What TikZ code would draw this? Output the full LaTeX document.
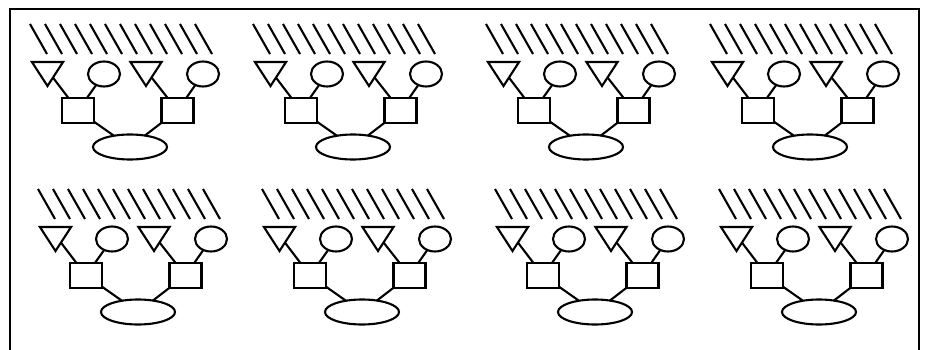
\documentclass[tikz,border=0pt]{standalone}
\usetikzlibrary{shapes.geometric}
\tikzset{
	shp/.style={draw, line width=2.1pt, inner sep=0pt, outer sep=0pt},
	tri/.style={shp, isosceles triangle, isosceles triangle apex angle=66, shape border rotate=270, minimum height=24, minimum width=31, anchor=apex},
	ring/.style={shp, ellipse, minimum width=32, minimum height=25},
	box/.style={shp, rectangle, minimum width=32, minimum height=25},
	pool/.style={shp, ellipse, minimum width=74, minimum height=25},
	wire/.style={line width=2.1pt},
	hatch/.style={line width=2.1pt}
}
\newcommand{\famtree}[3]{
	\begin{scope}[shift={(#2, #3)}]
		\foreach \k in {0,...,11}
			\draw[hatch](-2+15*\k, -38)--(15+15*\k, -8);
		\node[tri](#1ta)at(15.5, 24){};
		\node[ring](#1ca)at(72, 12){};
		\node[tri](#1tb)at(114, 24){};
		\node[ring](#1cb)at(171, 12){};
		\node[box](#1ba)at(46, 48.5){};
		\node[box](#1bb)at(145.5, 48.5){};
		\node[pool](#1p)at(98, 85){};
		\draw[wire](#1ta)--(#1ba);
		\draw[wire](#1ca)--(#1ba);
		\draw[wire](#1tb)--(#1bb);
		\draw[wire](#1cb)--(#1bb);
		\draw[wire](#1ba)--(#1p);
		\draw[wire](#1bb)--(#1p);
	\end{scope}
}

\begin{document}
\begin{tikzpicture}[x=1pt, y=-1pt]
	\useasboundingbox(0, 0)rectangle(925, 350);
	\draw[line width=2.6pt](10, 352)--(10, 9)--(919, 9)--(919, 352);
	% top row
	\famtree{a}{32}{62}
	\famtree{b}{255}{62}
	\famtree{c}{488}{62}
	\famtree{d}{712}{62}
	% bottom row
	\famtree{e}{40}{227}
	\famtree{f}{264}{227}
	\famtree{g}{497}{227}
	\famtree{h}{721}{227}
\end{tikzpicture}
\end{document}
